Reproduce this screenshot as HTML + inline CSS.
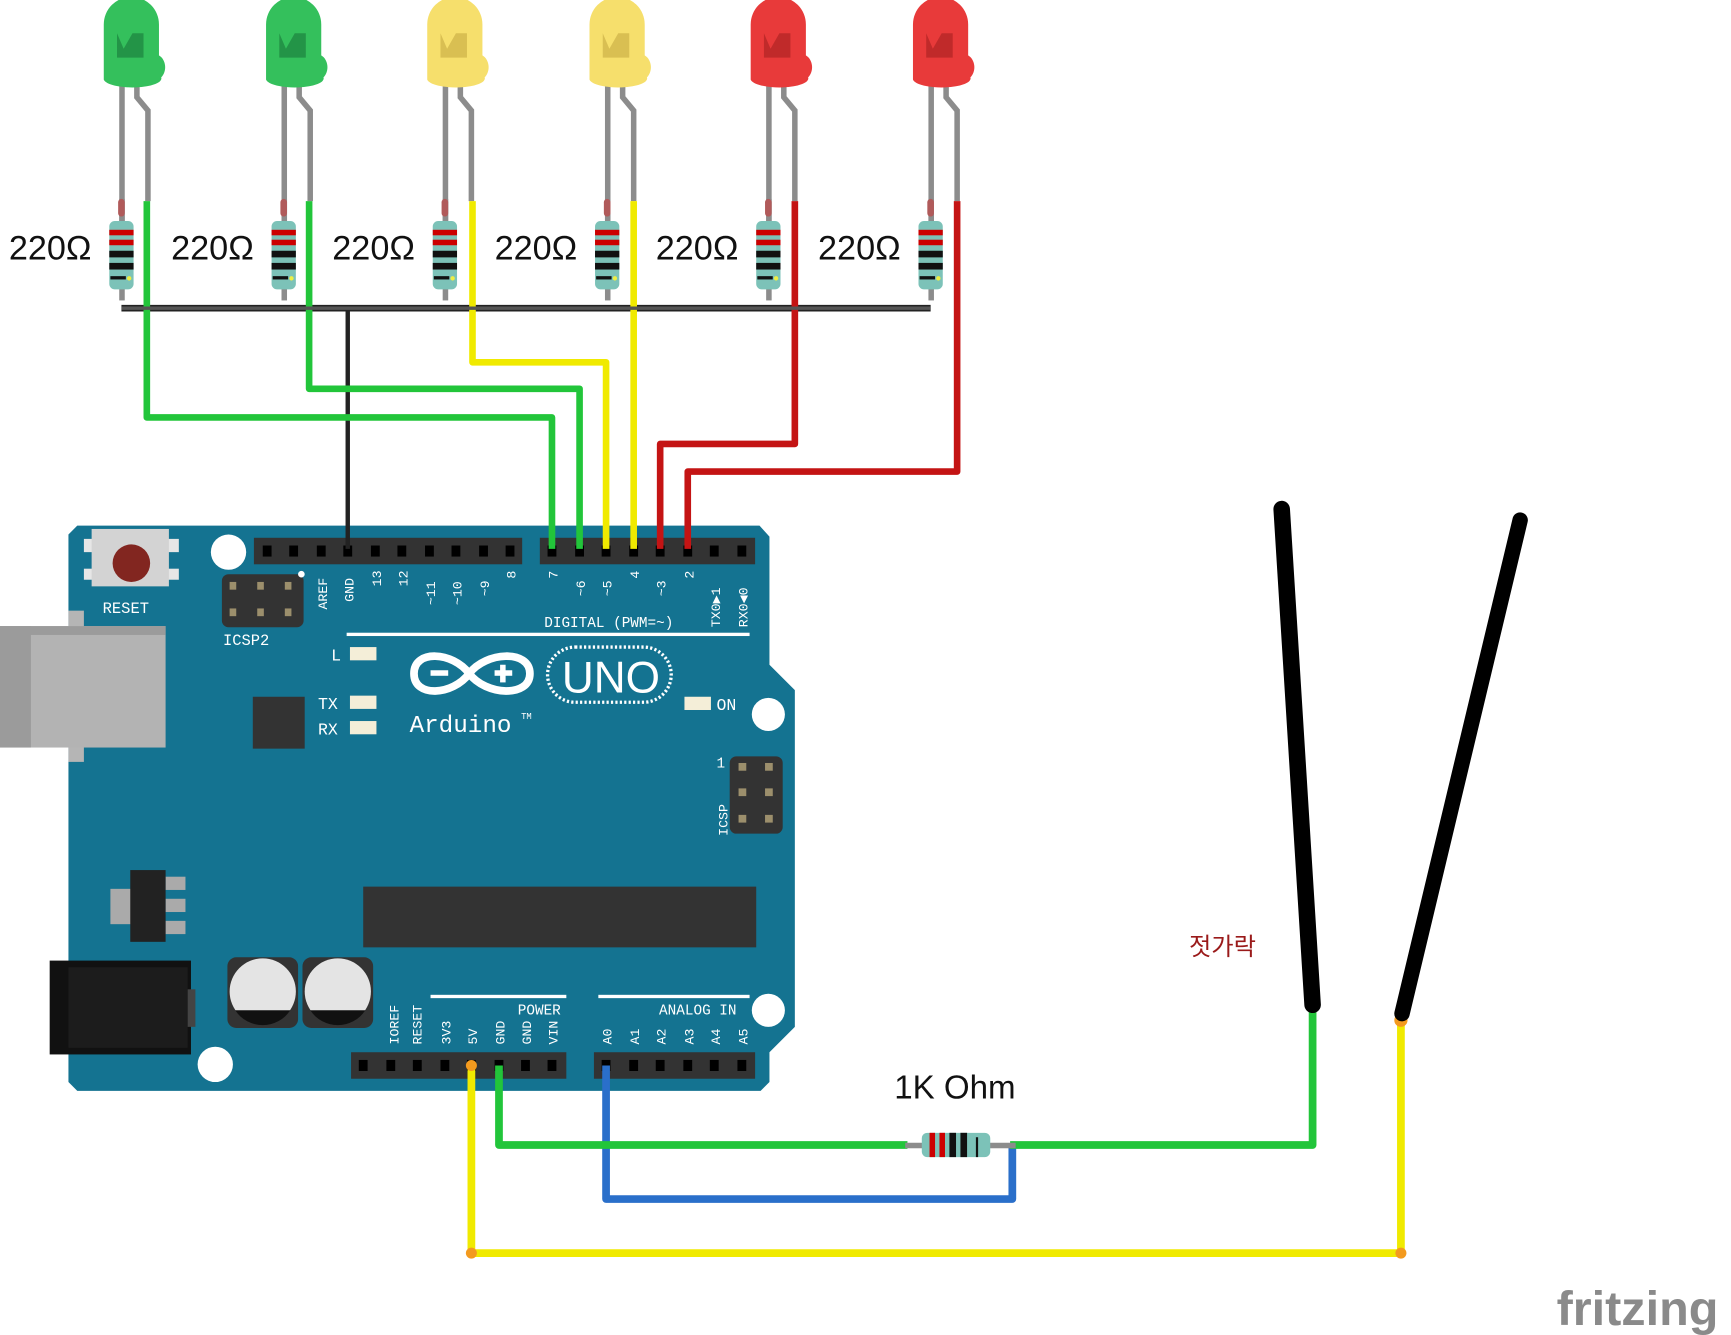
<!DOCTYPE html>
<html><head><meta charset="utf-8"><style>html,body{margin:0;padding:0;background:#fff}svg{display:block}</style></head>
<body>
<svg width="1731" height="1335" viewBox="0 0 1568 1209" xmlns="http://www.w3.org/2000/svg">
<defs>
<g id="res">
 <rect x="-2" y="-20" width="5" height="92" fill="#8c8c8c"/>
 <rect x="-3" y="-20" width="6" height="16" rx="3" fill="#b05a5a"/>
 <rect x="-11" y="0" width="22" height="62" rx="5" fill="#7cc2b8"/>
 <rect x="-11" y="8" width="22" height="5" fill="#c00"/>
 <rect x="-11" y="17" width="22" height="5" fill="#c00"/>
 <rect x="-11" y="27" width="22" height="6" fill="#111"/>
 <rect x="-11" y="38" width="22" height="6" fill="#111"/>
 <rect x="-10" y="50" width="14" height="3" fill="#111"/>
 <circle cx="7" cy="52" r="2" fill="#ee4"/>
</g>
<g id="hole"><rect x="-4" y="-5" width="8" height="10" fill="#000"/></g>
</defs>

<!-- LEDs -->
<g id="leds">
<g transform="translate(120,0)">
 <rect x="-12" y="75" width="5" height="180" fill="#8c8c8c"/>
 <path d="M4 78 L4 88 L14 100 L14 182" stroke="#8c8c8c" stroke-width="5" fill="none"/>
 <path d="M-26 68 L-26 22 A25 25 0 0 1 24 22 L24 50 A10 12 0 0 1 26 70 A26 8 0 0 1 -26 72 Z" fill="#34c05c"/>
 <path d="M-14 30 L-14 52 L10 52 L10 30 L0 30 L-8 44 Z" fill="#239447"/>
</g>
<g transform="translate(267,0)">
 <rect x="-12" y="75" width="5" height="180" fill="#8c8c8c"/>
 <path d="M4 78 L4 88 L14 100 L14 182" stroke="#8c8c8c" stroke-width="5" fill="none"/>
 <path d="M-26 68 L-26 22 A25 25 0 0 1 24 22 L24 50 A10 12 0 0 1 26 70 A26 8 0 0 1 -26 72 Z" fill="#34c05c"/>
 <path d="M-14 30 L-14 52 L10 52 L10 30 L0 30 L-8 44 Z" fill="#239447"/>
</g>
<g transform="translate(413,0)">
 <rect x="-12" y="75" width="5" height="180" fill="#8c8c8c"/>
 <path d="M4 78 L4 88 L14 100 L14 182" stroke="#8c8c8c" stroke-width="5" fill="none"/>
 <path d="M-26 68 L-26 22 A25 25 0 0 1 24 22 L24 50 A10 12 0 0 1 26 70 A26 8 0 0 1 -26 72 Z" fill="#f6df6c"/>
 <path d="M-14 30 L-14 52 L10 52 L10 30 L0 30 L-8 44 Z" fill="#d9bf52"/>
</g>
<g transform="translate(560,0)">
 <rect x="-12" y="75" width="5" height="180" fill="#8c8c8c"/>
 <path d="M4 78 L4 88 L14 100 L14 182" stroke="#8c8c8c" stroke-width="5" fill="none"/>
 <path d="M-26 68 L-26 22 A25 25 0 0 1 24 22 L24 50 A10 12 0 0 1 26 70 A26 8 0 0 1 -26 72 Z" fill="#f6df6c"/>
 <path d="M-14 30 L-14 52 L10 52 L10 30 L0 30 L-8 44 Z" fill="#d9bf52"/>
</g>
<g transform="translate(706,0)">
 <rect x="-12" y="75" width="5" height="180" fill="#8c8c8c"/>
 <path d="M4 78 L4 88 L14 100 L14 182" stroke="#8c8c8c" stroke-width="5" fill="none"/>
 <path d="M-26 68 L-26 22 A25 25 0 0 1 24 22 L24 50 A10 12 0 0 1 26 70 A26 8 0 0 1 -26 72 Z" fill="#e83a3a"/>
 <path d="M-14 30 L-14 52 L10 52 L10 30 L0 30 L-8 44 Z" fill="#c02a2a"/>
</g>
<g transform="translate(853,0)">
 <rect x="-12" y="75" width="5" height="180" fill="#8c8c8c"/>
 <path d="M4 78 L4 88 L14 100 L14 182" stroke="#8c8c8c" stroke-width="5" fill="none"/>
 <path d="M-26 68 L-26 22 A25 25 0 0 1 24 22 L24 50 A10 12 0 0 1 26 70 A26 8 0 0 1 -26 72 Z" fill="#e83a3a"/>
 <path d="M-14 30 L-14 52 L10 52 L10 30 L0 30 L-8 44 Z" fill="#c02a2a"/>
</g>
</g>

<!-- resistors -->
<use href="#res" x="110" y="200"/>
<use href="#res" x="257" y="200"/>
<use href="#res" x="403" y="200"/>
<use href="#res" x="550" y="200"/>
<use href="#res" x="696" y="200"/>
<use href="#res" x="843" y="200"/>

<g font-family="Liberation Sans, sans-serif" font-size="31" fill="#111">
<text x="8" y="235">220Ω</text>
<text x="155" y="235">220Ω</text>
<text x="301" y="235">220Ω</text>
<text x="448" y="235">220Ω</text>
<text x="594" y="235">220Ω</text>
<text x="741" y="235">220Ω</text>
</g>

<!-- Arduino board -->
<path d="M70 476 L688 476 L697 486 L697 602 L720 625 L720 930 L697 953 L697 980 L689 988 L70 988 L62 980 L62 484 Z" fill="#147391"/>
<!-- usb -->
<rect x="62" y="553" width="14" height="137" fill="#b5b5b5"/>
<rect x="0" y="567" width="150" height="110" fill="#b3b3b3"/>
<rect x="0" y="567" width="28" height="110" fill="#9b9b9b"/>
<rect x="0" y="567" width="150" height="8" fill="#9b9b9b"/>
<!-- reset -->
<rect x="76" y="488" width="86" height="12" fill="#e6e6e6"/>
<rect x="76" y="515" width="86" height="10" fill="#e6e6e6"/>
<rect x="83" y="479" width="70" height="52" fill="#d3d3d3"/>
<circle cx="119" cy="510" r="17" fill="#822620"/>
<!-- holes -->
<circle cx="207" cy="500" r="16" fill="#fff"/>
<circle cx="696" cy="647" r="15" fill="#fff"/>
<circle cx="696" cy="915" r="15" fill="#fff"/>
<circle cx="195" cy="964" r="16" fill="#fff"/>
<!-- ICSP2 -->
<rect x="201" y="520" width="74" height="48" rx="6" fill="#333"/>
<g fill="#9c8f6c"><rect x="208" y="527" width="6" height="7"/><rect x="233" y="527" width="6" height="7"/><rect x="258" y="527" width="6" height="7"/><rect x="208" y="551" width="6" height="7"/><rect x="233" y="551" width="6" height="7"/><rect x="258" y="551" width="6" height="7"/></g>
<circle cx="273" cy="520" r="3" fill="#fff"/>
<!-- chip small -->
<rect x="229" y="631" width="47" height="47" fill="#333"/>
<!-- leds on board -->
<g fill="#f4eed8"><rect x="317" y="586" width="24" height="12"/><rect x="317" y="630" width="24" height="12"/><rect x="317" y="653" width="24" height="12"/><rect x="620" y="631" width="24" height="12"/></g>
<!-- headers -->
<rect x="230" y="487" width="243" height="24" fill="#333"/>
<rect x="489" y="487" width="195" height="24" fill="#333"/>
<g>
<use href="#hole" x="242" y="499"/><use href="#hole" x="266" y="499"/><use href="#hole" x="291" y="499"/><use href="#hole" x="315" y="499"/><use href="#hole" x="340" y="499"/><use href="#hole" x="364" y="499"/><use href="#hole" x="389" y="499"/><use href="#hole" x="413" y="499"/><use href="#hole" x="438" y="499"/><use href="#hole" x="462" y="499"/>
<use href="#hole" x="500" y="499"/><use href="#hole" x="525" y="499"/><use href="#hole" x="549" y="499"/><use href="#hole" x="574" y="499"/><use href="#hole" x="598" y="499"/><use href="#hole" x="623" y="499"/><use href="#hole" x="647" y="499"/><use href="#hole" x="672" y="499"/>
</g>
<rect x="318" y="953" width="195" height="24" fill="#333"/>
<rect x="538" y="953" width="146" height="24" fill="#333"/>
<g>
<use href="#hole" x="329" y="965"/><use href="#hole" x="354" y="965"/><use href="#hole" x="378" y="965"/><use href="#hole" x="403" y="965"/><use href="#hole" x="427" y="965"/><use href="#hole" x="452" y="965"/><use href="#hole" x="476" y="965"/><use href="#hole" x="500" y="965"/>
<use href="#hole" x="549" y="965"/><use href="#hole" x="574" y="965"/><use href="#hole" x="598" y="965"/><use href="#hole" x="623" y="965"/><use href="#hole" x="647" y="965"/><use href="#hole" x="672" y="965"/>
</g>
<!-- ICSP right -->
<rect x="661" y="685" width="48" height="70" rx="6" fill="#333"/>
<g fill="#9c8f6c"><rect x="669" y="691" width="7" height="7"/><rect x="693" y="691" width="7" height="7"/><rect x="669" y="714" width="7" height="7"/><rect x="693" y="714" width="7" height="7"/><rect x="669" y="738" width="7" height="7"/><rect x="693" y="738" width="7" height="7"/></g>
<!-- main chip -->
<rect x="329" y="803" width="356" height="55" fill="#333"/>
<!-- regulator -->
<rect x="100" y="805" width="20" height="32" fill="#aaa"/>
<rect x="150" y="794" width="18" height="12" fill="#aaa"/><rect x="150" y="814" width="18" height="12" fill="#aaa"/><rect x="150" y="834" width="18" height="12" fill="#aaa"/>
<rect x="118" y="788" width="32" height="65" fill="#222"/>
<!-- power jack -->
<rect x="45" y="870" width="128" height="85" fill="#111"/>
<rect x="62" y="876" width="108" height="73" fill="#1c1c1c"/>
<rect x="170" y="896" width="7" height="34" fill="#444"/>
<!-- caps -->
<rect x="206" y="867" width="64" height="64" rx="8" fill="#333"/>
<rect x="274" y="867" width="64" height="64" rx="8" fill="#333"/>
<circle cx="238" cy="898" r="30" fill="#e4e4e4"/><path d="M213 915 L263 915 A30 30 0 0 1 213 915 Z" fill="#111"/>
<circle cx="306" cy="898" r="30" fill="#e4e4e4"/><path d="M281 915 L331 915 A30 30 0 0 1 281 915 Z" fill="#111"/>
<!-- lines -->
<rect x="314" y="573" width="365" height="3" fill="#fff"/>
<rect x="390" y="901" width="123" height="3" fill="#fff"/>
<rect x="542" y="901" width="137" height="3" fill="#fff"/>
<!-- logo -->
<g fill="none" stroke="#fff" stroke-width="7">
<path d="M425 610 C410 590 375 588 375 610 C375 632 410 630 425 610 C440 590 480 588 480 610 C480 632 440 630 425 610 Z"/>
</g>
<rect x="390" y="607" width="16" height="5" fill="#fff"/>
<rect x="448" y="607" width="16" height="5" fill="#fff"/><rect x="453" y="602" width="5" height="16" fill="#fff"/>
<rect x="496" y="586" width="112" height="50" rx="25" fill="none" stroke="#fff" stroke-width="3" stroke-dasharray="2 2"/>
<g fill="#fff" font-family="Liberation Mono, DejaVu Sans Mono, monospace">
<text x="509" y="627" font-family="Liberation Sans, sans-serif" font-size="40">UNO</text>
<text x="371" y="663" font-size="22">Arduino</text>
<text x="472" y="651" font-size="8">TM</text>
<text x="93" y="555" font-size="14">RESET</text>
<text x="202" y="584" font-size="14">ICSP2</text>
<text x="300" y="598" font-size="15">L</text>
<text x="288" y="642" font-size="15">TX</text>
<text x="288" y="665" font-size="15">RX</text>
<text x="649" y="643" font-size="15">ON</text>
<text x="649" y="695" font-size="13">1</text>
<text x="493" y="568" font-size="13">DIGITAL (PWM=~)</text>
<text x="469" y="919" font-size="13">POWER</text>
<text x="597" y="919" font-size="13">ANALOG IN</text>
<g font-size="12">
<text transform="translate(296,552) rotate(-90)">AREF</text>
<text transform="translate(320,545) rotate(-90)">GND</text>
<text transform="translate(345,531) rotate(-90)">13</text>
<text transform="translate(369,531) rotate(-90)">12</text>
<text transform="translate(394,548) rotate(-90)">~11</text>
<text transform="translate(418,548) rotate(-90)">~10</text>
<text transform="translate(443,540) rotate(-90)">~9</text>
<text transform="translate(467,524) rotate(-90)">8</text>
<text transform="translate(505,524) rotate(-90)">7</text>
<text transform="translate(530,540) rotate(-90)">~6</text>
<text transform="translate(554,540) rotate(-90)">~5</text>
<text transform="translate(579,524) rotate(-90)">4</text>
<text transform="translate(603,540) rotate(-90)">~3</text>
<text transform="translate(628,524) rotate(-90)">2</text>
<text transform="translate(652,568) rotate(-90)">TX0▶1</text>
<text transform="translate(677,568) rotate(-90)">RX0◀0</text>
<text transform="translate(659,757) rotate(-90)">ICSP</text>
<text transform="translate(361,946) rotate(-90)">IOREF</text>
<text transform="translate(382,946) rotate(-90)">RESET</text>
<text transform="translate(408,946) rotate(-90)">3V3</text>
<text transform="translate(432,946) rotate(-90)">5V</text>
<text transform="translate(457,946) rotate(-90)">GND</text>
<text transform="translate(481,946) rotate(-90)">GND</text>
<text transform="translate(505,946) rotate(-90)">VIN</text>
<text transform="translate(554,946) rotate(-90)">A0</text>
<text transform="translate(579,946) rotate(-90)">A1</text>
<text transform="translate(603,946) rotate(-90)">A2</text>
<text transform="translate(628,946) rotate(-90)">A3</text>
<text transform="translate(652,946) rotate(-90)">A4</text>
<text transform="translate(677,946) rotate(-90)">A5</text>
</g>
</g>

<!-- wires top -->
<g fill="none" stroke-linejoin="round" stroke-width="6">
<path d="M110 279 L843 279" stroke="#222"/>
<path d="M315 279 L315 497" stroke="#222" stroke-width="4"/>
<path d="M133 182 L133 378 L500 378 L500 497" stroke="#22c53a"/>
<path d="M280 182 L280 352 L525 352 L525 497" stroke="#22c53a"/>
<path d="M428 182 L428 328 L549 328 L549 497" stroke="#f0ea00"/>
<path d="M574 182 L574 497" stroke="#f0ea00"/>
<path d="M720 182 L720 402 L598 402 L598 497" stroke="#c41414"/>
<path d="M867 182 L867 427 L623 427 L623 497" stroke="#c41414"/>
</g>
<g fill="none" stroke-width="3">
<path d="M110 279 L843 279" stroke="#555"/>
</g>

<!-- bottom wires -->
<g fill="none" stroke-linejoin="round" stroke-width="7">
<path d="M427 965 L427 1135 L1269 1135 L1269 925" stroke="#f0ea00"/>
<path d="M549 965 L549 1086 L917 1086 L917 1037" stroke="#2a6fca"/>
<path d="M452 965 L452 1037 L822 1037" stroke="#22c53a"/>
<path d="M915 1037 L1189 1037 L1189 910" stroke="#22c53a"/>
</g>
<rect x="820" y="1035" width="100" height="5" fill="#8c8c8c"/>
<rect x="835" y="1026" width="62" height="22" rx="5" fill="#7cc2b8"/>
<rect x="842" y="1026" width="5" height="22" fill="#c00"/><rect x="851" y="1026" width="5" height="22" fill="#c00"/><rect x="860" y="1026" width="6" height="22" fill="#111"/><rect x="870" y="1026" width="6" height="22" fill="#111"/><rect x="884" y="1030" width="2" height="18" fill="#111"/>
<circle cx="427" cy="965" r="5" fill="#f39a1e"/><circle cx="427" cy="1135" r="5" fill="#f39a1e"/><circle cx="1269" cy="1135" r="5" fill="#f39a1e"/><circle cx="1269" cy="924" r="6" fill="#f39a1e"/>
<text x="810" y="995" font-family="Liberation Sans, sans-serif" font-size="30" fill="#111">1K Ohm</text>

<!-- chopsticks -->
<path d="M1161 461 L1189 910" stroke="#000" stroke-width="15" stroke-linecap="round"/>
<path d="M1377 471 L1270 918" stroke="#000" stroke-width="14" stroke-linecap="round"/>
<text x="1077" y="865" font-family="Liberation Sans, 'Noto Sans CJK KR', NanumGothic, sans-serif" font-size="22" fill="#9a1a1a">젓가락</text>

<text x="1410" y="1200" font-family="Liberation Sans, sans-serif" font-weight="bold" font-size="44" fill="#8a8a8a">fritzing</text>
</svg>
</body></html>
